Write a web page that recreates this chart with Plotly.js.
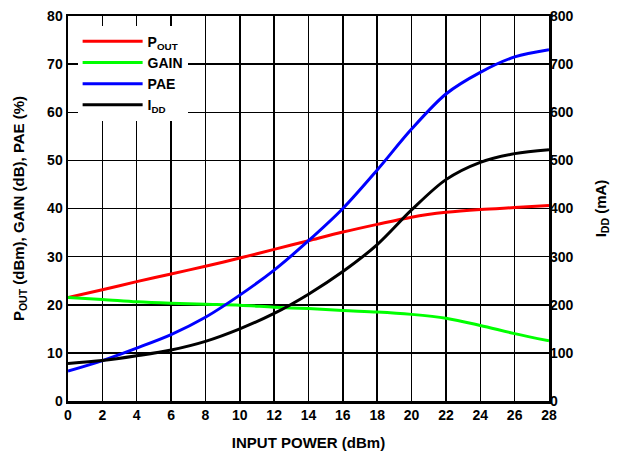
<!DOCTYPE html>
<html>
<head>
<meta charset="utf-8">
<script src="https://cdn.plot.ly/plotly-3.0.1.min.js"></script>
<style>html,body{margin:0;padding:0;background:#fff;}#chart{width:622px;height:455px;}</style>
</head>
<body>
<div id="chart"></div>
<script>
const inputPower = [0, 2, 4, 6, 8, 10, 12, 14, 16, 18, 20, 22, 24, 26, 28];
const pout = [21.5, 23.1, 24.8, 26.4, 28.0, 29.7, 31.5, 33.3, 35.1, 36.7, 38.2, 39.2, 39.8, 40.2, 40.6];
const gain = [21.5, 21.1, 20.6, 20.3, 20.1, 19.9, 19.5, 19.2, 18.8, 18.5, 18.0, 17.2, 15.7, 14.0, 12.5];
const pae = [6.2, 8.4, 11.0, 13.8, 17.4, 22.0, 27.2, 33.3, 40.0, 48.0, 56.5, 63.8, 68.3, 71.5, 73.0];
const idd = [78, 84, 94, 106, 124, 150, 182, 222, 269, 325, 397, 460, 496, 514, 522];

const seriesNames = ['P<sub>OUT</sub>', 'GAIN', 'PAE', 'I<sub>DD</sub>'];
const xTickVals = [0, 2, 4, 6, 8, 10, 12, 14, 16, 18, 20, 22, 24, 26, 28];

const FONT = 'Liberation Sans, Arial, Helvetica, sans-serif';
const lineStyle = (c) => ({color: c, width: 3, shape: 'spline', smoothing: 0.9});

const traces = [
  {x: inputPower, y: pout, name: seriesNames[0], mode: 'lines', line: lineStyle('#ff0000')},
  {x: inputPower, y: gain, name: seriesNames[1], mode: 'lines', line: lineStyle('#00ff00')},
  {x: inputPower, y: pae, name: seriesNames[2], mode: 'lines', line: lineStyle('#0000ff')},
  {x: inputPower, y: idd, name: seriesNames[3], mode: 'lines', line: lineStyle('#000000'), yaxis: 'y2'}
];

const tickFont = {family: FONT, size: 14, color: '#000', weight: 'bold'};
const titleFont = {family: FONT, size: 15, color: '#000', weight: 'bold'};
const layout = {
  width: 622, height: 455,
  margin: {l: 68, r: 73, t: 16, b: 54},
  paper_bgcolor: '#fff', plot_bgcolor: '#fff',
  font: {family: FONT, color: '#000'},
  showlegend: true,
  legend: {
    x: 0.02, y: 0.975, xanchor: 'left', yanchor: 'top',
    bgcolor: '#fff', borderwidth: 0, itemwidth: 60,
    font: {family: FONT, size: 14, color: '#000', weight: 'bold'},
    tracegroupgap: 0
  },
  xaxis: {
    range: [0, 28], tickvals: xTickVals, ticks: '', showgrid: true,
    gridcolor: '#000', gridwidth: 1.5, zeroline: false,
    showline: true, linecolor: '#000', linewidth: 2.5, mirror: true,
    tickfont: tickFont,
    title: {text: 'INPUT POWER (dBm)', font: titleFont, standoff: 15}
  },
  yaxis: {
    range: [0, 80], dtick: 10, ticks: '', showgrid: true,
    gridcolor: '#000', gridwidth: 1.5, zeroline: false,
    showline: true, linecolor: '#000', linewidth: 2.5, mirror: true,
    tickfont: tickFont,
    title: {text: 'P<sub>OUT</sub> (dBm), GAIN (dB), PAE (%)', font: titleFont, standoff: 19}
  },
  yaxis2: {
    range: [0, 800], dtick: 100, ticks: '', overlaying: 'y', side: 'right',
    showgrid: false, zeroline: false, showline: false,
    tickfont: tickFont,
    title: {text: 'I<sub>DD</sub> (mA)', font: titleFont, standoff: 22}
  }
};

Plotly.newPlot('chart', traces, layout, {displayModeBar: false, staticPlot: true});
</script>
</body>
</html>
